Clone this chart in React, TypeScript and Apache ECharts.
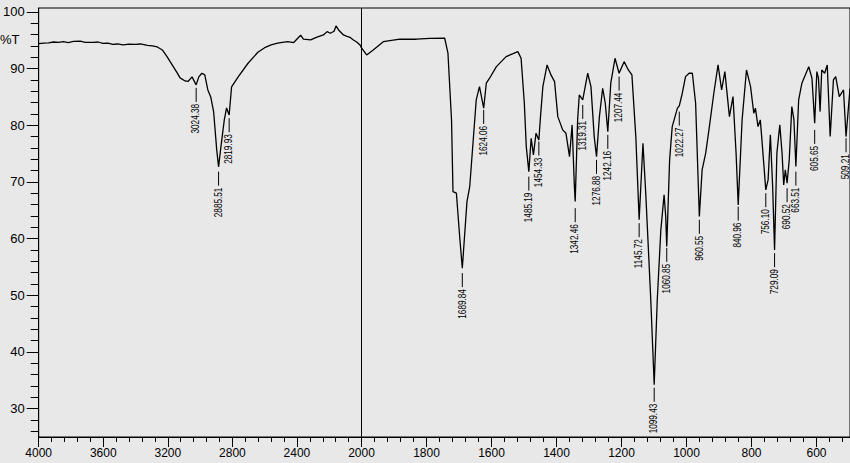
import React, { useEffect, useRef } from "react";
import * as echarts from "echarts";

// Spectrum, high-wavenumber part (4000–2000 cm-1)
const highWave = [
  4000, 3970, 3939, 3908, 3877, 3847, 3816, 3785, 3743, 3712, 3663, 3632, 3602, 3571, 3541, 3510,
  3479, 3449, 3400, 3370, 3326, 3296, 3265, 3234, 3204, 3173, 3142, 3124, 3093, 3075, 3050, 3024.38,
  3008, 2989, 2971, 2952, 2934, 2916, 2897, 2885.51, 2871, 2850, 2836, 2820, 2805, 2764, 2703, 2642,
  2600, 2560, 2520, 2458, 2420, 2377, 2360, 2315, 2280, 2236, 2213, 2193, 2170, 2158, 2142, 2112,
  2090, 2070, 2050, 2030, 2009, 2000,
];
const highT = [
  94.4, 94.5, 94.55, 94.7, 94.62, 94.75, 94.6, 94.8, 94.85, 94.65, 94.62, 94.7, 94.44, 94.5, 94.27, 94.35,
  94.18, 94.3, 94.27, 94.35, 94.1, 94.0, 93.83, 93.3, 92.06, 90.65, 89.24, 88.36, 87.83, 87.74, 88.54, 87.13,
  88.54, 89.19, 88.89, 86.24, 85.01, 82.36, 75.66, 72.66, 76.19, 80.95, 83.07, 81.83, 86.77, 88.54, 90.95, 92.89,
  93.7, 94.18, 94.5, 94.76, 94.6, 95.9, 95.2, 95.06, 95.5, 95.94, 96.53, 96.24, 96.6, 97.53, 96.83, 95.94,
  95.7, 95.5, 95.06, 94.7, 94.18, 93.65,
];

// Spectrum, low-wavenumber part (2000–500 cm-1)
const lowWave = [
  2000, 1984, 1964, 1933, 1882, 1831, 1790, 1744, 1734, 1723, 1718.5, 1708, 1698, 1689.84, 1683, 1675.5,
  1667, 1657, 1647, 1637, 1624.06, 1616, 1606, 1585, 1555, 1519, 1509, 1499, 1493, 1485.19, 1478, 1471,
  1463, 1454.33, 1450, 1442, 1429, 1417, 1406, 1396, 1381, 1371, 1360, 1352, 1345, 1342.46, 1335, 1330,
  1319.31, 1304, 1294, 1284, 1276.88, 1268, 1258, 1250, 1242.16, 1233, 1220, 1207.44, 1192, 1179, 1168, 1156,
  1145.72, 1134, 1125, 1110, 1099.43, 1090, 1079, 1069, 1064, 1060.85, 1052, 1044, 1028, 1022.27, 1013, 1003,
  992, 982, 972, 960.55, 952, 941, 931, 916, 903, 892, 882, 868, 857, 847.5, 840.96, 829,
  815.5, 803, 793, 788, 780, 773, 768, 756.1, 749, 742, 735, 729.09, 722, 713, 706, 701,
  696, 690.52, 684, 676, 669.5, 663.51, 655, 645, 624, 614, 605.65, 599, 594, 589, 584, 575,
  567, 558, 548, 541, 530, 517, 509.21, 497,
];
const lowT = [
  93.65, 92.42, 93.3, 94.76, 95.19, 95.19, 95.33, 95.36, 92.72, 80.95, 68.31, 68.02, 60.37, 54.8, 60.37, 66.54,
  69.19, 76.84, 84.48, 86.83, 83.02, 87.43, 88.31, 90.35, 92.12, 93.0, 91.83, 83.9, 76.24, 71.83, 77.72, 74.78,
  78.61, 77.42, 80.95, 86.83, 90.65, 88.89, 87.71, 81.53, 79.19, 78.61, 74.48, 80.07, 69.19, 66.54, 80.95, 85.36,
  84.48, 89.19, 86.83, 78.01, 74.48, 81.53, 86.54, 83.9, 78.89, 87.43, 91.83, 89.19, 91.23, 89.77, 88.89, 78.01,
  63.32, 76.84, 67.5, 49.21, 34.22, 49.21, 61.55, 67.72, 63.9, 58.61, 73.9, 79.77, 83.02, 83.42, 85.66, 88.59,
  89.19, 89.19, 83.9, 63.9, 72.13, 75.08, 79.19, 85.66, 90.65, 86.24, 89.47, 81.53, 85.06, 75.08, 65.96, 80.95,
  89.77, 86.83, 82.13, 83.02, 79.77, 80.95, 77.43, 68.61, 70.37, 78.31, 69.19, 58.02, 75.08, 80.07, 75.08, 69.49,
  72.13, 69.79, 73.9, 83.3, 80.95, 72.72, 84.48, 87.43, 90.35, 88.31, 80.37, 89.47, 88.31, 82.42, 89.77, 89.19,
  90.65, 78.01, 88.01, 88.59, 85.06, 86.24, 78.01, 86.5,
];

// Peak annotations: wavenumber and %T where the marker starts
const peakWave = [
  3024.38, 2885.51, 2819.93, 1689.84, 1624.06, 1485.19, 1454.33, 1342.46, 1319.31, 1276.88, 1242.16, 1207.44,
  1145.72, 1099.43, 1060.85, 1022.27, 960.55, 840.96, 756.1, 729.09, 690.52, 663.51, 605.65, 509.21,
];
const peakT = [
  86.6, 71.83, 81.25, 53.92, 82.72, 70.95, 77.13, 65.38, 83.6, 73.9, 78.31, 88.59,
  62.73, 33.69, 58.38, 82.42, 63.32, 65.66, 68.02, 57.44, 68.91, 71.83, 79.19, 77.72,
];

const yMajorTicks = [30, 40, 50, 60, 70, 80, 90, 100];
const xHighTicks = [4000, 3600, 3200, 2800, 2400];
const xLowTicks = [2000, 1800, 1600, 1400, 1200, 1000, 800, 600];

const yMinorTicks: number[] = [];
for (let v = 26; v <= 100; v += 2) if (v % 10 !== 0) yMinorTicks.push(v);
const xHighMinor: number[] = [];
for (let v = 2000; v <= 4000; v += 80) if (v % 400 !== 0) xHighMinor.push(v);
const xLowMinor: number[] = [];
for (let v = 520; v <= 2000; v += 40) if (v % 200 !== 0) xLowMinor.push(v);

const FONT = "'Liberation Sans', Arial, sans-serif";

const Y_MIN = 25;
const Y_MAX = 100.7;

const renderPeak = (params: any, api: any) => {
  const w = api.value(0);
  const p = api.coord([w, api.value(1)]);
  return {
    type: "group",
    children: [
      {
        type: "line",
        shape: { x1: p[0], y1: p[1], x2: p[0], y2: p[1] + 14 },
        style: { stroke: "#000", lineWidth: 1 },
      },
      {
        type: "text",
        x: p[0],
        y: p[1] + 16,
        rotation: Math.PI / 2,
        scaleX: 0.82,
        style: {
          text: Number(w).toFixed(2),
          fontSize: 10,
          fontFamily: FONT,
          fill: "#000",
          align: "right",
          verticalAlign: "middle",
        },
      },
    ],
  };
};

const plain = (v: number) => String(v);

export default function App() {
  const ref = useRef<HTMLDivElement>(null);

  useEffect(() => {
    if (!ref.current) return;
    const chart = echarts.init(ref.current, undefined, { renderer: "svg" });

    const highData = highWave.map((w, i) => [w, highT[i]]);
    const lowData = lowWave.map((w, i) => [w, lowT[i]]);
    const highPeaks = peakWave.map((w, i) => [w, peakT[i]]).filter((d) => d[0] > 2000);
    const lowPeaks = peakWave.map((w, i) => [w, peakT[i]]).filter((d) => d[0] <= 2000);

    const labelStyle = { fontSize: 12, color: "#000", fontFamily: FONT, formatter: plain };

    chart.setOption({
      animation: false,
      backgroundColor: "#e8e8e8",
      grid: [
        { left: 35, top: 8, width: 326.5, height: 429, show: true, borderColor: "#000", borderWidth: 1, backgroundColor: "transparent" },
        { left: 361.5, top: 8, width: 490, height: 429, show: true, borderColor: "#000", borderWidth: 1, backgroundColor: "transparent" },
      ],
      xAxis: [
        {
          gridIndex: 0, type: "value", min: 2000, max: 4000, inverse: true, position: "bottom",
          axisLine: { show: true, lineStyle: { color: "#000", width: 1 } },
          axisTick: { show: true, customValues: xHighTicks, length: 10, lineStyle: { color: "#000" } },
          axisLabel: { show: true, customValues: xHighTicks, margin: 10, ...labelStyle },
          splitLine: { show: false },
        },
        {
          gridIndex: 0, type: "value", min: 2000, max: 4000, inverse: true, position: "bottom",
          axisLine: { show: false },
          axisTick: { show: true, customValues: xHighMinor, length: 5, lineStyle: { color: "#000" } },
          axisLabel: { show: false },
          splitLine: { show: false },
        },
        {
          gridIndex: 1, type: "value", min: 497, max: 2000, inverse: true, position: "bottom",
          axisLine: { show: true, lineStyle: { color: "#000", width: 1 } },
          axisTick: { show: true, customValues: xLowTicks, length: 10, lineStyle: { color: "#000" } },
          axisLabel: { show: true, customValues: xLowTicks, margin: 10, ...labelStyle },
          splitLine: { show: false },
        },
        {
          gridIndex: 1, type: "value", min: 497, max: 2000, inverse: true, position: "bottom",
          axisLine: { show: false },
          axisTick: { show: true, customValues: xLowMinor, length: 5, lineStyle: { color: "#000" } },
          axisLabel: { show: false },
          splitLine: { show: false },
        },
      ],
      yAxis: [
        {
          gridIndex: 0, type: "value", min: Y_MIN, max: Y_MAX, position: "left",
          axisLine: { show: true, lineStyle: { color: "#000", width: 1 } },
          axisTick: { show: true, customValues: yMajorTicks, length: 12, lineStyle: { color: "#000" } },
          axisLabel: { show: true, customValues: yMajorTicks, margin: 14, fontSize: 13, color: "#000", fontFamily: FONT, formatter: plain },
          splitLine: { show: false },
        },
        {
          gridIndex: 0, type: "value", min: Y_MIN, max: Y_MAX, position: "left",
          axisLine: { show: false },
          axisTick: { show: true, customValues: yMinorTicks, length: 8, lineStyle: { color: "#000" } },
          axisLabel: { show: false },
          splitLine: { show: false },
        },
        {
          gridIndex: 1, type: "value", min: Y_MIN, max: Y_MAX, show: false,
        },
      ],
      graphic: [
        {
          type: "text", left: 0, top: 33,
          style: { text: "%T", fontSize: 13, fill: "#000", fontFamily: FONT },
        },
      ],
      series: [
        {
          type: "line", xAxisIndex: 0, yAxisIndex: 0, data: highData, showSymbol: false, symbol: "none",
          lineStyle: { color: "#000", width: 1.3 }, clip: true, silent: true,
        },
        {
          type: "line", xAxisIndex: 2, yAxisIndex: 2, data: lowData, showSymbol: false, symbol: "none",
          lineStyle: { color: "#000", width: 1.3 }, clip: true, silent: true,
        },
        {
          type: "custom", xAxisIndex: 0, yAxisIndex: 0, data: highPeaks, renderItem: renderPeak, silent: true, clip: false,
        },
        {
          type: "custom", xAxisIndex: 2, yAxisIndex: 2, data: lowPeaks, renderItem: renderPeak, silent: true, clip: false,
        },
      ],
    });

    return () => chart.dispose();
  }, []);

  return (
    <div
      ref={ref}
      style={{ position: "absolute", left: 0, top: 0, width: 850, height: 463 }}
    />
  );
}
